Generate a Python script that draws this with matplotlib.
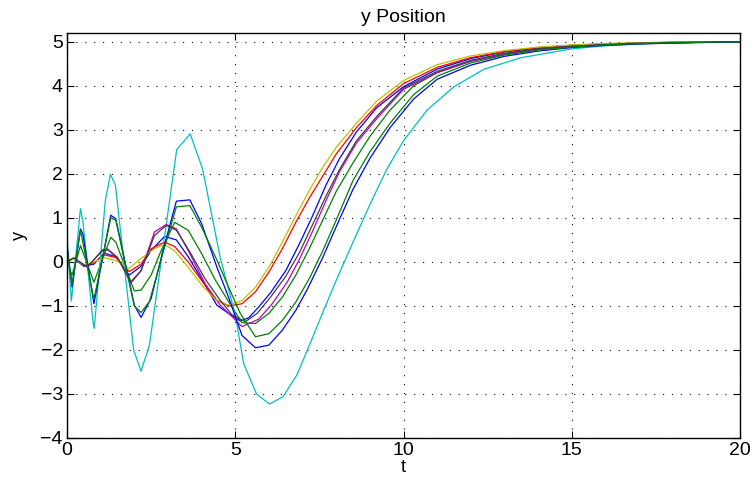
import matplotlib
matplotlib.use("Agg")
import matplotlib.pyplot as plt

plt.rcParams['font.family'] = ['Liberation Sans', 'DejaVu Sans']

# ---- data ----
t_blue_a = [0, 0.2, 0.5, 0.8, 1.1, 1.45, 1.85, 2.2, 2.5, 2.9, 3.25, 3.6, 4.05, 4.45, 4.8, 5.15, 5.4, 5.7, 6.05,
            6.5, 6.9, 7.3, 7.7, 8.1, 8.6, 9.2, 10, 11, 12, 13, 14, 15, 16, 17, 18, 20]
y_blue_a = [0, 0.09, -0.1, -0.05, 0.2, 0.12, -0.3, -0.1, 0.26, 0.58, 0.5, 0.12, -0.45, -0.98, -1.17, -1.34, -1.27,
            -1.02, -0.7, -0.2, 0.4, 1.05, 1.75, 2.35, 2.95, 3.5, 3.98, 4.38, 4.62, 4.77, 4.86, 4.92, 4.95, 4.97, 4.99, 5.0]

t_green_a = [0, 0.15, 0.4, 0.8, 1.3, 1.45, 2.0, 2.2, 2.5, 2.8, 3.2, 3.6, 4.0, 4.4, 4.8, 5.2, 5.6, 6.0, 6.4, 6.8,
             7.2, 7.6, 8.0, 8.5, 9.0, 9.6, 10.3, 11, 12, 13, 14, 15, 16, 17, 18, 20]
y_green_a = [0, -0.3, 0.37, -0.46, 0.56, 0.45, -0.66, -0.64, -0.3, 0.26, 0.9, 0.72, 0.19, -0.4, -0.9, -1.38, -1.4,
             -1.17, -0.8, -0.3, 0.3, 0.95, 1.6, 2.25, 2.85, 3.45, 4.0, 4.3, 4.56, 4.72, 4.83, 4.9, 4.94, 4.97, 4.98, 5.0]

t_red = [0, 0.2, 0.5, 0.8, 1.1, 1.45, 1.85, 2.2, 2.5, 2.9, 3.2, 3.6, 4.0, 4.4, 4.8, 5.2, 5.6, 6.0, 6.4, 6.8,
         7.2, 7.6, 8.0, 8.6, 9.2, 10, 11, 12, 13, 14, 15, 16, 17, 18, 20]
y_red = [0, 0.08, -0.08, -0.02, 0.16, 0.1, -0.22, -0.05, 0.3, 0.45, 0.35, 0.0, -0.42, -0.85, -1.0, -0.95, -0.68,
         -0.23, 0.3, 0.9, 1.45, 1.95, 2.45, 3.05, 3.55, 4.05, 4.42, 4.64, 4.78, 4.87, 4.92, 4.95, 4.97, 4.99, 5.0]

t_cyan = [0, 0.13, 0.4, 0.47, 0.78, 0.81, 1.14, 1.29, 1.44, 1.98, 2.2, 2.45, 2.85, 3.26, 3.66, 4.03, 4.55, 5.0,
          5.25, 5.63, 6.02, 6.42, 6.83, 7.2, 7.6, 8.0, 8.5, 9.0, 9.5, 10.0, 10.7, 11.5, 12.4, 13.5, 15, 16, 17, 18, 20]
y_cyan = [0.57, -0.89, 1.21, 0.94, -1.4, -1.51, 1.4, 1.99, 1.74, -2.0, -2.48, -1.89, 0.3, 2.55, 2.91, 2.11, 0.11,
          -1.2, -2.31, -3.0, -3.23, -3.06, -2.57, -1.9, -1.15, -0.42, 0.45, 1.3, 2.1, 2.75, 3.45, 3.98, 4.38, 4.64,
          4.84, 4.91, 4.95, 4.98, 5.0]

t_magenta = [0, 0.2, 0.6, 1.05, 1.2, 1.5, 1.9, 2.2, 2.6, 2.95, 3.25, 3.65, 4.1, 4.55, 4.9, 5.2, 5.7, 6.1, 6.55,
             6.9, 7.3, 7.7, 8.1, 8.6, 9.2, 10, 11, 12, 13, 14, 15, 16, 17, 18, 20]
y_magenta = [0, 0.09, -0.12, 0.27, 0.3, 0.1, -0.48, -0.2, 0.68, 0.85, 0.75, 0.19, -0.49, -0.98, -1.24, -1.47,
             -1.3, -0.95, -0.45, 0.05, 0.7, 1.4, 2.05, 2.7, 3.25, 3.92, 4.3, 4.56, 4.72, 4.83, 4.9, 4.94, 4.97, 4.98, 5.0]

t_yellow = [0, 0.2, 0.5, 0.8, 1.1, 1.45, 1.85, 2.2, 2.6, 2.9, 3.2, 3.6, 4.0, 4.4, 4.8, 5.2, 5.6, 6.0, 6.4, 6.8,
            7.2, 7.6, 8.0, 8.6, 9.2, 10, 11, 12, 13, 14, 15, 16, 17, 18, 20]
y_yellow = [0, 0.07, -0.06, 0.0, 0.1, 0.03, -0.15, 0.08, 0.3, 0.4, 0.25, -0.12, -0.52, -0.85, -0.98, -0.88, -0.58,
            -0.12, 0.45, 1.05, 1.62, 2.15, 2.6, 3.15, 3.65, 4.12, 4.48, 4.68, 4.8, 4.88, 4.93, 4.96, 4.98, 4.99, 5.0]

t_gray = [0, 0.2, 0.6, 1.05, 1.2, 1.5, 1.9, 2.2, 2.6, 2.95, 3.25, 3.65, 4.1, 4.55, 4.9, 5.3, 5.65, 6.05, 6.5, 6.9,
          7.3, 7.7, 8.1, 8.6, 9.2, 10, 11, 12, 13, 14, 15, 16, 17, 18, 20]
y_gray = [0, 0.09, -0.11, 0.25, 0.28, 0.1, -0.45, -0.2, 0.6, 0.83, 0.72, 0.23, -0.38, -0.87, -1.2, -1.36, -1.17,
          -0.8, -0.33, 0.2, 0.85, 1.5, 2.1, 2.75, 3.3, 3.95, 4.33, 4.58, 4.74, 4.84, 4.9, 4.94, 4.97, 4.98, 5.0]

t_blue_b = [0, 0.15, 0.4, 0.47, 0.8, 1.3, 1.45, 2.0, 2.2, 2.5, 2.85, 3.25, 3.65, 4.0, 4.45, 4.8, 5.2, 5.6, 6.0,
            6.4, 6.8, 7.15, 7.6, 8.0, 8.5, 9.0, 9.6, 10.3, 11, 12, 13, 14, 15, 16, 17, 18, 20]
y_blue_b = [0.38, -0.57, 0.75, 0.64, -0.95, 1.06, 0.98, -0.98, -1.26, -0.83, 0.25, 1.38, 1.41, 0.87, -0.11, -0.8,
            -1.67, -1.95, -1.89, -1.55, -1.1, -0.61, 0.1, 0.8, 1.65, 2.35, 3.05, 3.7, 4.15, 4.47, 4.67, 4.79, 4.87,
            4.92, 4.95, 4.97, 5.0]

t_green_b = [0, 0.15, 0.4, 0.8, 1.3, 1.45, 2.0, 2.2, 2.45, 2.85, 3.25, 3.65, 4.0, 4.45, 4.8, 5.15, 5.6, 6.0, 6.4,
             6.8, 7.2, 7.6, 8.0, 8.5, 9.0, 9.6, 10.3, 11, 12, 13, 14, 15, 16, 17, 18, 20]
y_green_b = [0.3, -0.5, 0.72, -0.85, 1.0, 0.95, -1.0, -1.15, -0.9, 0.2, 1.25, 1.28, 0.79, 0.05, -0.57, -1.17, -1.7,
             -1.63, -1.33, -0.91, -0.38, 0.25, 0.95, 1.85, 2.5, 3.15, 3.8, 4.22, 4.52, 4.7, 4.81, 4.88, 4.93, 4.96,
             4.98, 5.0]

series = [
    (t_blue_a, y_blue_a, (0, 0, 1)),
    (t_green_a, y_green_a, (0, 0.5, 0)),
    (t_red, y_red, (1, 0, 0)),
    (t_cyan, y_cyan, (0, 0.75, 0.75)),
    (t_magenta, y_magenta, (0.75, 0, 0.75)),
    (t_yellow, y_yellow, (0.75, 0.75, 0)),
    (t_gray, y_gray, (0.25, 0.25, 0.25)),
    (t_blue_b, y_blue_b, (0, 0, 1)),
    (t_green_b, y_green_b, (0, 0.5, 0)),
]

x_ticks = [0, 5, 10, 15, 20]
y_ticks = [-4, -3, -2, -1, 0, 1, 2, 3, 4, 5]

fig = plt.figure(figsize=(7.53, 4.82), dpi=100)
ax = fig.add_axes([67 / 753, 44 / 482, (740 - 67) / 753, (438 - 33) / 482])

for t, y, c in series:
    ax.plot(t, y, color=c, linewidth=0.9)

ax.set_xlim(0, 20)
ax.set_ylim(-4, 5.2)
ax.set_xticks(x_ticks)
ax.set_yticks(y_ticks)
ax.grid(True, color='black', linestyle=(0, (1, 7)), linewidth=0.8)
ax.tick_params(direction='in', top=True, right=True, labelsize=14, length=5, width=0.8, pad=3)
for s in ax.spines.values():
    s.set_linewidth(1.0)
ax.set_title('y Position', fontsize=14, pad=8)
ax.set_xlabel('t', fontsize=13, labelpad=0)
ax.set_ylabel('y', fontsize=13, labelpad=9)

fig.savefig('out.png', dpi=100)
